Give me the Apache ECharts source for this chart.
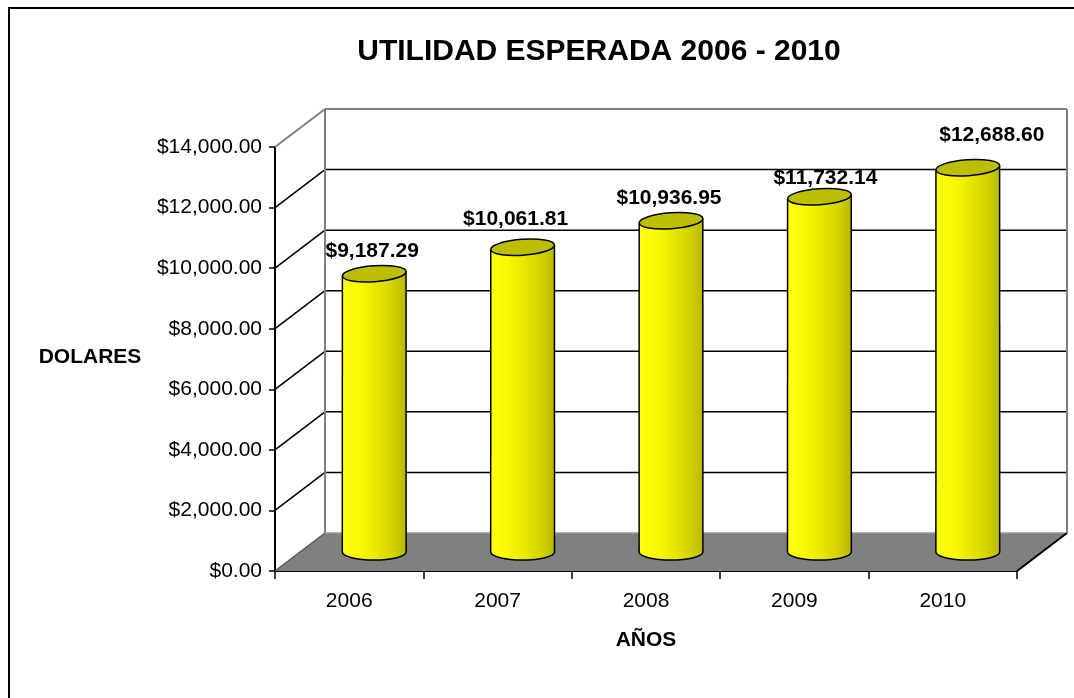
<!DOCTYPE html>
<html>
<head>
<meta charset="utf-8">
<script src="https://cdn.jsdelivr.net/npm/echarts@6/dist/echarts.min.js"></script>
<style>
  html, body { margin: 0; padding: 0; background: #ffffff; }
  #chart { width: 1074px; height: 698px; }
</style>
</head>
<body>
<div id="chart"></div>
<script>
const categories = ['2006', '2007', '2008', '2009', '2010'];
const values = [9187.29, 10061.81, 10936.95, 11732.14, 12688.60];
const yTicks = [0, 2000, 4000, 6000, 8000, 10000, 12000, 14000];
const chartTitle = 'UTILIDAD ESPERADA 2006 - 2010';
const yTitle = 'DOLARES';
const xTitle = 'AÑOS';

const FONT = 'Arial, "Liberation Sans", sans-serif';
const DX = 50, DY = -38;          // depth offset of the 3D box
const CAP_RY = 8;                 // ellipse half height of the cylinder caps
const CAP_TILT = 0.07;
const YMAX = 14000;
// small per-label placement nudges (style only), as in the original layout
const LABEL_NUDGE = [[-2, 0], [-7, -6], [-2, 0], [6, 4], [24, -10]];

function money(v) {
  const parts = v.toFixed(2).split('.');
  parts[0] = parts[0].replace(/\B(?=(\d{3})+(?!\d))/g, ',');
  return '$' + parts.join('.');
}

const chart = echarts.init(document.getElementById('chart'), null, { renderer: 'canvas' });

function renderWalls(params, api) {
  const v = api.value(1);
  const p = api.coord([0, v]);
  const bw = api.size([1, 0])[0];
  const left = p[0] - bw / 2;
  const right = left + categories.length * bw;
  const y = p[1];
  const children = [];
  if (v === 0) {
    children.push({
      type: 'polygon',
      shape: { points: [[left, y], [right, y], [right + DX, y + DY], [left + DX, y + DY]] },
      style: { fill: '#808080', stroke: null }
    });
    children.push({ type: 'line', shape: { x1: left + DX, y1: y + DY, x2: right + DX, y2: y + DY },
      style: { stroke: '#9a9a9a', lineWidth: 1.5 } });
    children.push({ type: 'line', shape: { x1: left, y1: y, x2: left + DX, y2: y + DY },
      style: { stroke: '#5a5a5a', lineWidth: 1.5 } });
    children.push({ type: 'line', shape: { x1: right, y1: y, x2: right + DX, y2: y + DY },
      style: { stroke: '#000', lineWidth: 2 } });
  } else if (v === YMAX) {
    const floorY = api.coord([0, 0])[1];
    children.push({ type: 'line', shape: { x1: left, y1: y, x2: left + DX, y2: y + DY },
      style: { stroke: '#808080', lineWidth: 2 } });
    children.push({ type: 'line', shape: { x1: left + DX, y1: y + DY, x2: right + DX, y2: y + DY },
      style: { stroke: '#808080', lineWidth: 2 } });
    children.push({ type: 'line', shape: { x1: left + DX, y1: y + DY, x2: left + DX, y2: floorY + DY },
      style: { stroke: '#808080', lineWidth: 2 } });
    children.push({ type: 'line', shape: { x1: right + DX, y1: y + DY, x2: right + DX, y2: floorY + DY },
      style: { stroke: '#808080', lineWidth: 2 } });
  } else {
    children.push({ type: 'line', shape: { x1: left, y1: y, x2: left + DX, y2: y + DY },
      style: { stroke: '#000', lineWidth: 1.5 } });
    children.push({ type: 'line', shape: { x1: left + DX, y1: y + DY, x2: right + DX, y2: y + DY },
      style: { stroke: '#000', lineWidth: 1.5 } });
  }
  return { type: 'group', children: children, silent: true };
}

function renderCylinder(params, api) {
  const i = api.value(0);
  const v = api.value(1);
  const top = api.coord([i, v]);
  const base = api.coord([i, 0]);
  const bw = api.size([1, 0])[0];
  const r = bw * 0.215;
  const cx = top[0] + DX / 2;
  const ty = top[1] + DY / 2;
  const by = base[1] + DY / 2;
  const grad = new echarts.graphic.LinearGradient(0, 0, 1, 0, [
    { offset: 0, color: '#ffff10' },
    { offset: 0.3, color: '#f8f800' },
    { offset: 0.55, color: '#e6e600' },
    { offset: 0.8, color: '#d2d200' },
    { offset: 1, color: '#b8b800' }
  ]);
  const c = Math.cos(CAP_TILT), s = Math.sin(CAP_TILT);
  const lt = [cx - r * c, ty + r * s];
  const rt = [cx + r * c, ty - r * s];
  const nudge = LABEL_NUDGE[i] || [0, 0];
  return {
    type: 'group',
    children: [
      { type: 'ellipse', shape: { cx: cx, cy: by, rx: r, ry: CAP_RY },
        style: { fill: grad, stroke: '#000', lineWidth: 1.5 } },
      { type: 'polygon', shape: { points: [lt, rt, [cx + r, by], [cx - r, by]] },
        style: { fill: grad, stroke: null } },
      { type: 'line', shape: { x1: lt[0], y1: lt[1], x2: cx - r, y2: by },
        style: { stroke: '#000', lineWidth: 1.5 } },
      { type: 'line', shape: { x1: rt[0], y1: rt[1], x2: cx + r, y2: by },
        style: { stroke: '#000', lineWidth: 1.5 } },
      { type: 'ellipse', shape: { cx: 0, cy: 0, rx: r, ry: CAP_RY },
        x: cx, y: ty, rotation: CAP_TILT,
        style: { fill: '#bebe00', stroke: '#000', lineWidth: 1.5 } },
      { type: 'text', x: cx + nudge[0], y: ty - CAP_RY - 4 + nudge[1],
        style: { text: money(v), font: 'bold 21px ' + FONT, fill: '#000',
          align: 'center', verticalAlign: 'bottom',
          textAlign: 'center', textVerticalAlign: 'bottom' } }
    ]
  };
}

const option = {
  animation: false,
  backgroundColor: '#ffffff',
  grid: { left: 275, right: 57, top: 147, bottom: 127 },
  xAxis: {
    type: 'category',
    data: categories,
    boundaryGap: true,
    axisLine: { show: true, lineStyle: { color: '#000', width: 2 } },
    axisTick: { show: true, length: 8, interval: 0, lineStyle: { color: '#000', width: 1.5 } },
    axisLabel: { fontSize: 21, color: '#000', fontFamily: FONT, margin: 20, interval: 0 },
    splitLine: { show: false },
    name: xTitle,
    nameLocation: 'middle',
    nameGap: 69,
    nameTextStyle: { fontSize: 21, fontWeight: 'bold', color: '#000', fontFamily: FONT, verticalAlign: 'middle' }
  },
  yAxis: {
    type: 'value',
    min: 0,
    max: YMAX,
    interval: 2000,
    axisLine: { show: true, lineStyle: { color: '#000', width: 2 } },
    axisTick: { show: true, length: 6, lineStyle: { color: '#000', width: 1.5 } },
    axisLabel: { fontSize: 21, color: '#000', fontFamily: FONT, margin: 13, formatter: money },
    splitLine: { show: false }
  },
  graphic: [
    { type: 'rect', shape: { x: 9, y: 8, width: 1090, height: 720 },
      style: { fill: null, stroke: '#000', lineWidth: 2 }, silent: true, z: 100 },
    { type: 'text', x: 599, y: 52,
      style: { text: chartTitle, font: 'bold 30px ' + FONT, fill: '#000',
        align: 'center', verticalAlign: 'middle', textAlign: 'center', textVerticalAlign: 'middle' } },
    { type: 'text', x: 90, y: 357,
      style: { text: yTitle, font: 'bold 21px ' + FONT, fill: '#000',
        align: 'center', verticalAlign: 'middle', textAlign: 'center', textVerticalAlign: 'middle' } }
  ],
  series: [
    {
      type: 'custom',
      name: 'walls',
      renderItem: renderWalls,
      encode: { x: 0, y: 1 },
      data: yTicks.map(function (v) { return [0, v]; }),
      z: 1,
      clip: false
    },
    {
      type: 'custom',
      name: 'utilidad',
      renderItem: renderCylinder,
      encode: { x: 0, y: 1 },
      data: values.map(function (v, i) { return [i, v]; }),
      z: 2,
      clip: false
    }
  ]
};

chart.setOption(option);
</script>
</body>
</html>
